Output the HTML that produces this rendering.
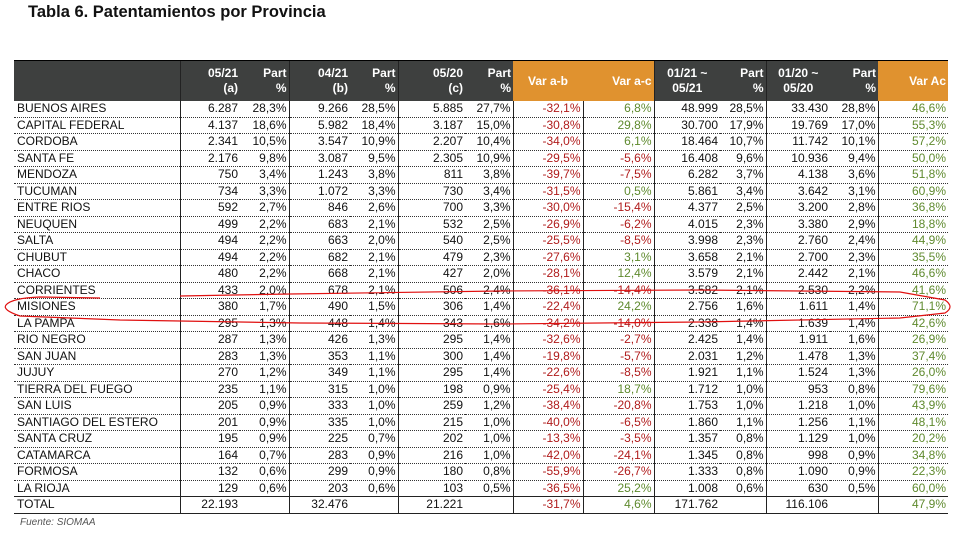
<!DOCTYPE html>
<html><head><meta charset="utf-8">
<style>
body{margin:0;width:964px;height:535px;background:#fff;position:relative;overflow:hidden;font-family:"Liberation Sans Narrow","Liberation Sans",sans-serif;}
h1{position:absolute;left:28px;top:3px;margin:0;font:bold 16.5px "Liberation Sans",sans-serif;color:#111;}
table{position:absolute;left:14px;top:60px;border-collapse:collapse;table-layout:fixed;font-size:12px;color:#111;}
th{background:#3e403f;color:#fff;font-weight:bold;height:40px;text-align:right;padding:0 2px;vertical-align:middle;font-size:12px;line-height:15px;border-top:1px solid #000;}
th.o{background:#e0922f;}
td{height:15.5px;padding:0 2px;text-align:right;white-space:nowrap;border-bottom:1px dotted #333;line-height:15px;}
td:first-child{text-align:left;padding-left:3px;}
.L{border-left:1px solid #222;}
.r{color:#b01c1c;}.g{color:#5f8a2e;}
tr.t td{border-bottom:1px solid #222;border-top:1px solid #222;}
.f{position:absolute;left:20px;top:517px;font:italic 10px "Liberation Sans",sans-serif;color:#555;}
</style></head><body>
<h1>Tabla 6. Patentamientos por Provincia</h1>
<table>
<colgroup><col style="width:166px"><col style="width:60px"><col style="width:49px"><col style="width:61px"><col style="width:48px"><col style="width:67px"><col style="width:48px"><col style="width:70px"><col style="width:71px"><col style="width:66px"><col style="width:46px"><col style="width:64px"><col style="width:48px"><col style="width:70px"></colgroup>
<tr><th></th><th class="L">05/21<br>(a)</th><th>Part<br>%</th><th class="L">04/21<br>(b)</th><th>Part<br>%</th><th class="L">05/20<br>(c)</th><th>Part<br>%</th><th class="o" style="text-align:center">Var a-b</th><th class="o">Var a-c</th><th class="L" style="text-align:center">01/21 ~<br>05/21</th><th>Part<br>%</th><th class="L" style="text-align:center">01/20 ~<br>05/20</th><th>Part<br>%</th><th class="o">Var Ac</th></tr>
<tr><td>BUENOS AIRES</td><td class="L">6.287</td><td>28,3%</td><td class="L">9.266</td><td>28,5%</td><td class="L">5.885</td><td>27,7%</td><td class="L r">-32,1%</td><td class="L g">6,8%</td><td class="L">48.999</td><td>28,5%</td><td class="L">33.430</td><td>28,8%</td><td class="L g">46,6%</td></tr>
<tr><td>CAPITAL FEDERAL</td><td class="L">4.137</td><td>18,6%</td><td class="L">5.982</td><td>18,4%</td><td class="L">3.187</td><td>15,0%</td><td class="L r">-30,8%</td><td class="L g">29,8%</td><td class="L">30.700</td><td>17,9%</td><td class="L">19.769</td><td>17,0%</td><td class="L g">55,3%</td></tr>
<tr><td>CORDOBA</td><td class="L">2.341</td><td>10,5%</td><td class="L">3.547</td><td>10,9%</td><td class="L">2.207</td><td>10,4%</td><td class="L r">-34,0%</td><td class="L g">6,1%</td><td class="L">18.464</td><td>10,7%</td><td class="L">11.742</td><td>10,1%</td><td class="L g">57,2%</td></tr>
<tr><td>SANTA FE</td><td class="L">2.176</td><td>9,8%</td><td class="L">3.087</td><td>9,5%</td><td class="L">2.305</td><td>10,9%</td><td class="L r">-29,5%</td><td class="L r">-5,6%</td><td class="L">16.408</td><td>9,6%</td><td class="L">10.936</td><td>9,4%</td><td class="L g">50,0%</td></tr>
<tr><td>MENDOZA</td><td class="L">750</td><td>3,4%</td><td class="L">1.243</td><td>3,8%</td><td class="L">811</td><td>3,8%</td><td class="L r">-39,7%</td><td class="L r">-7,5%</td><td class="L">6.282</td><td>3,7%</td><td class="L">4.138</td><td>3,6%</td><td class="L g">51,8%</td></tr>
<tr><td>TUCUMAN</td><td class="L">734</td><td>3,3%</td><td class="L">1.072</td><td>3,3%</td><td class="L">730</td><td>3,4%</td><td class="L r">-31,5%</td><td class="L g">0,5%</td><td class="L">5.861</td><td>3,4%</td><td class="L">3.642</td><td>3,1%</td><td class="L g">60,9%</td></tr>
<tr><td>ENTRE RIOS</td><td class="L">592</td><td>2,7%</td><td class="L">846</td><td>2,6%</td><td class="L">700</td><td>3,3%</td><td class="L r">-30,0%</td><td class="L r">-15,4%</td><td class="L">4.377</td><td>2,5%</td><td class="L">3.200</td><td>2,8%</td><td class="L g">36,8%</td></tr>
<tr><td>NEUQUEN</td><td class="L">499</td><td>2,2%</td><td class="L">683</td><td>2,1%</td><td class="L">532</td><td>2,5%</td><td class="L r">-26,9%</td><td class="L r">-6,2%</td><td class="L">4.015</td><td>2,3%</td><td class="L">3.380</td><td>2,9%</td><td class="L g">18,8%</td></tr>
<tr><td>SALTA</td><td class="L">494</td><td>2,2%</td><td class="L">663</td><td>2,0%</td><td class="L">540</td><td>2,5%</td><td class="L r">-25,5%</td><td class="L r">-8,5%</td><td class="L">3.998</td><td>2,3%</td><td class="L">2.760</td><td>2,4%</td><td class="L g">44,9%</td></tr>
<tr><td>CHUBUT</td><td class="L">494</td><td>2,2%</td><td class="L">682</td><td>2,1%</td><td class="L">479</td><td>2,3%</td><td class="L r">-27,6%</td><td class="L g">3,1%</td><td class="L">3.658</td><td>2,1%</td><td class="L">2.700</td><td>2,3%</td><td class="L g">35,5%</td></tr>
<tr><td>CHACO</td><td class="L">480</td><td>2,2%</td><td class="L">668</td><td>2,1%</td><td class="L">427</td><td>2,0%</td><td class="L r">-28,1%</td><td class="L g">12,4%</td><td class="L">3.579</td><td>2,1%</td><td class="L">2.442</td><td>2,1%</td><td class="L g">46,6%</td></tr>
<tr><td>CORRIENTES</td><td class="L">433</td><td>2,0%</td><td class="L">678</td><td>2,1%</td><td class="L">506</td><td>2,4%</td><td class="L r">-36,1%</td><td class="L r">-14,4%</td><td class="L">3.582</td><td>2,1%</td><td class="L">2.530</td><td>2,2%</td><td class="L g">41,6%</td></tr>
<tr><td>MISIONES</td><td class="L">380</td><td>1,7%</td><td class="L">490</td><td>1,5%</td><td class="L">306</td><td>1,4%</td><td class="L r">-22,4%</td><td class="L g">24,2%</td><td class="L">2.756</td><td>1,6%</td><td class="L">1.611</td><td>1,4%</td><td class="L g">71,1%</td></tr>
<tr><td>LA PAMPA</td><td class="L">295</td><td>1,3%</td><td class="L">448</td><td>1,4%</td><td class="L">343</td><td>1,6%</td><td class="L r">-34,2%</td><td class="L r">-14,0%</td><td class="L">2.338</td><td>1,4%</td><td class="L">1.639</td><td>1,4%</td><td class="L g">42,6%</td></tr>
<tr><td>RIO NEGRO</td><td class="L">287</td><td>1,3%</td><td class="L">426</td><td>1,3%</td><td class="L">295</td><td>1,4%</td><td class="L r">-32,6%</td><td class="L r">-2,7%</td><td class="L">2.425</td><td>1,4%</td><td class="L">1.911</td><td>1,6%</td><td class="L g">26,9%</td></tr>
<tr><td>SAN JUAN</td><td class="L">283</td><td>1,3%</td><td class="L">353</td><td>1,1%</td><td class="L">300</td><td>1,4%</td><td class="L r">-19,8%</td><td class="L r">-5,7%</td><td class="L">2.031</td><td>1,2%</td><td class="L">1.478</td><td>1,3%</td><td class="L g">37,4%</td></tr>
<tr><td>JUJUY</td><td class="L">270</td><td>1,2%</td><td class="L">349</td><td>1,1%</td><td class="L">295</td><td>1,4%</td><td class="L r">-22,6%</td><td class="L r">-8,5%</td><td class="L">1.921</td><td>1,1%</td><td class="L">1.524</td><td>1,3%</td><td class="L g">26,0%</td></tr>
<tr><td>TIERRA DEL FUEGO</td><td class="L">235</td><td>1,1%</td><td class="L">315</td><td>1,0%</td><td class="L">198</td><td>0,9%</td><td class="L r">-25,4%</td><td class="L g">18,7%</td><td class="L">1.712</td><td>1,0%</td><td class="L">953</td><td>0,8%</td><td class="L g">79,6%</td></tr>
<tr><td>SAN LUIS</td><td class="L">205</td><td>0,9%</td><td class="L">333</td><td>1,0%</td><td class="L">259</td><td>1,2%</td><td class="L r">-38,4%</td><td class="L r">-20,8%</td><td class="L">1.753</td><td>1,0%</td><td class="L">1.218</td><td>1,0%</td><td class="L g">43,9%</td></tr>
<tr><td>SANTIAGO DEL ESTERO</td><td class="L">201</td><td>0,9%</td><td class="L">335</td><td>1,0%</td><td class="L">215</td><td>1,0%</td><td class="L r">-40,0%</td><td class="L r">-6,5%</td><td class="L">1.860</td><td>1,1%</td><td class="L">1.256</td><td>1,1%</td><td class="L g">48,1%</td></tr>
<tr><td>SANTA CRUZ</td><td class="L">195</td><td>0,9%</td><td class="L">225</td><td>0,7%</td><td class="L">202</td><td>1,0%</td><td class="L r">-13,3%</td><td class="L r">-3,5%</td><td class="L">1.357</td><td>0,8%</td><td class="L">1.129</td><td>1,0%</td><td class="L g">20,2%</td></tr>
<tr><td>CATAMARCA</td><td class="L">164</td><td>0,7%</td><td class="L">283</td><td>0,9%</td><td class="L">216</td><td>1,0%</td><td class="L r">-42,0%</td><td class="L r">-24,1%</td><td class="L">1.345</td><td>0,8%</td><td class="L">998</td><td>0,9%</td><td class="L g">34,8%</td></tr>
<tr><td>FORMOSA</td><td class="L">132</td><td>0,6%</td><td class="L">299</td><td>0,9%</td><td class="L">180</td><td>0,8%</td><td class="L r">-55,9%</td><td class="L r">-26,7%</td><td class="L">1.333</td><td>0,8%</td><td class="L">1.090</td><td>0,9%</td><td class="L g">22,3%</td></tr>
<tr><td>LA RIOJA</td><td class="L">129</td><td>0,6%</td><td class="L">203</td><td>0,6%</td><td class="L">103</td><td>0,5%</td><td class="L r">-36,5%</td><td class="L g">25,2%</td><td class="L">1.008</td><td>0,6%</td><td class="L">630</td><td>0,5%</td><td class="L g">60,0%</td></tr>
<tr class="t"><td>TOTAL</td><td class="L">22.193</td><td></td><td class="L">32.476</td><td></td><td class="L">21.221</td><td></td><td class="L r">-31,7%</td><td class="L g">4,6%</td><td class="L">171.762</td><td></td><td class="L">116.106</td><td></td><td class="L g">47,9%</td></tr>
</table>
<div class="f">Fuente: SIOMAA</div>
<svg style="position:absolute;left:0;top:0" width="964" height="535">
<path d="M180,296 L290,294 L500,291 L700,290 L900,292 L945,300 Q955,307 945,313 L900,318 L700,322 L500,324 L300,323 L120,320 L20,316 Q2,310 6,305 Q12,298 40,297 L100,298" fill="none" stroke="#e01010" stroke-width="1.2"/>
</svg>
</body></html>
